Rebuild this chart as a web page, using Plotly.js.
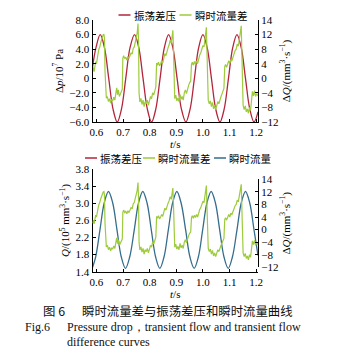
<!DOCTYPE html>
<html>
<head>
<meta charset="utf-8">
<script src="https://cdn.plot.ly/plotly-3.0.1.min.js"></script>
<style>html,body{margin:0;padding:0;background:#fff;}#chart{width:353px;height:354px;}</style>
</head>
<body>
<div id="chart"></div>
<script>
// ---- data ----
// oscillating pressure drop (top, left axis, 10^7 Pa)
const tRed = [0.585,0.598,0.614,0.630,0.646,0.662,0.678,0.694,0.710,0.726,0.743,0.759,0.775,0.791,0.807,0.823,0.839,0.855,0.871,0.887,0.903,0.919,0.936,0.952,0.968,0.984,1.000,1.016,1.032,1.048,1.064,1.080,1.096,1.112,1.128,1.144,1.160,1.176,1.192,1.207];
const dpRed = [1.5,4.2,6.0,4.2,0.0,-4.2,-6.0,-4.2,0.0,4.2,6.0,4.2,0.0,-4.2,-6.0,-4.2,0.0,4.2,6.0,4.2,0.0,-4.2,-6.0,-4.2,0.0,4.2,6.0,4.2,0.0,-4.2,-6.0,-4.2,0.0,4.2,6.0,4.2,0.0,-4.2,-6.0,-4.6];

// transient flow (bottom, left axis, 10^5 mm^3/s)
const tBlue = [0.585,0.597,0.613,0.629,0.645,0.661,0.677,0.693,0.709,0.725,0.742,0.758,0.774,0.790,0.806,0.822,0.838,0.854,0.870,0.886,0.902,0.918,0.935,0.951,0.967,0.983,0.999,1.015,1.031,1.047,1.063,1.079,1.095,1.111,1.128,1.144,1.160,1.176,1.192,1.207];
const qBlue = [1.50,1.75,2.38,3.01,3.28,3.01,2.38,1.75,1.48,1.75,2.38,3.01,3.28,3.01,2.38,1.75,1.48,1.75,2.38,3.01,3.28,3.01,2.38,1.75,1.48,1.75,2.38,3.01,3.28,3.01,2.38,1.75,1.48,1.75,2.38,3.01,3.28,3.01,2.38,1.78];

// transient flow difference (right axes, mm^3/s)
const tGreen = [
 0.585,0.588,0.591,0.594,0.597,0.600,0.603,0.606,0.609,0.612,0.616,0.619,0.622,0.625,0.628,0.630,0.632,0.634,0.637,
 0.641,0.645,0.649,0.653,0.657,0.661,0.665,0.669,0.673,0.676,0.679,0.682,0.686,0.690,0.694,0.697,
 0.699,0.702,0.706,0.710,0.714,0.718,0.722,0.726,0.730,0.734,0.738,0.742,0.746,0.750,0.753,0.756,0.758,
 0.760,0.763,0.767,0.771,0.775,0.779,0.783,0.787,0.791,0.795,0.799,0.803,0.807,0.811,0.815,0.819,0.823,
 0.826,0.829,0.833,0.837,0.841,0.845,0.849,0.853,0.857,0.861,0.865,0.869,0.873,0.877,0.881,0.884,0.887,0.889,
 0.891,0.894,0.898,0.902,0.906,0.910,0.914,0.918,0.922,0.926,0.930,0.934,0.938,0.942,0.946,0.950,0.954,
 0.957,0.960,0.964,0.968,0.972,0.976,0.980,0.984,0.988,0.992,0.996,1.000,1.004,1.008,1.011,1.013,1.015,
 1.017,1.020,1.024,1.028,1.032,1.036,1.040,1.044,1.048,1.052,1.056,1.060,1.064,1.068,1.072,1.076,1.079,
 1.082,1.085,1.089,1.093,1.097,1.101,1.105,1.109,1.113,1.117,1.121,1.125,1.129,1.133,1.137,1.141,1.144,1.146,
 1.148,1.151,1.155,1.159,1.163,1.167,1.171,1.175,1.179,1.183,1.186,1.190,1.194,1.198,1.202,1.207];
const dqGreen = [
 2.0,3.0,1.8,3.6,4.6,4.0,6.2,6.8,8.0,8.5,9.8,10.8,11.2,11.9,12.1,11.0,2.0,-3.2,-5.5,
 -5.0,-6.4,-5.6,-6.8,-5.8,-6.2,-5.2,-6.0,-4.0,-2.6,-4.5,-3.2,-5.0,-4.4,-3.8,-3.0,
 5.5,6.2,5.4,5.8,5.0,6.0,5.4,6.4,7.0,6.6,8.2,8.6,10.0,11.5,12.5,15.0,10.0,
 -4.0,-6.5,-5.5,-7.2,-6.0,-7.8,-6.4,-7.0,-6.0,-7.4,-6.2,-5.0,-5.6,-4.0,-4.6,-3.2,-2.4,
 4.2,3.6,4.4,3.4,4.0,4.8,4.2,5.6,6.8,6.2,7.8,8.4,9.2,10.5,9.6,11.5,13.2,9.0,
 -2.0,-5.6,-4.6,-6.2,-5.4,-6.4,-4.4,-5.8,-5.0,-6.0,-4.0,-3.2,-4.2,-2.6,-2.0,-1.2,-0.8,
 3.8,4.4,3.6,4.6,3.8,4.8,4.0,5.4,6.4,7.0,8.2,9.0,8.6,10.8,12.0,14.0,8.0,
 -3.0,-6.0,-7.0,-6.2,-7.8,-6.6,-8.4,-7.4,-8.6,-7.2,-6.4,-7.0,-5.6,-5.0,-4.2,-3.6,-2.8,
 3.2,3.8,3.0,4.2,4.8,4.0,5.2,4.8,6.0,6.8,7.6,8.0,9.4,8.8,10.6,12.0,14.4,8.0,
 -4.0,-7.4,-8.6,-7.6,-9.2,-8.4,-9.6,-8.0,-8.8,-6.0,-3.6,-4.8,-3.4,-5.0,-4.2,-4.8];

// tick labels
const xTickVals = [0.6,0.7,0.8,0.9,1.0,1.1,1.2];
const xTickText = ['0.6','0.7','0.8','0.9','1.0','1.1','1.2'];
const dpTickVals = [-6,-4,-2,0,2,4,6,8];
const dpTickText = ['\u22126.0','\u22124.0','\u22122.0','0','2.0','4.0','6.0','8.0'];
const qTickVals = [1.4,1.8,2.2,2.6,3.0,3.4,3.8];
const qTickText = ['1.4','1.8','2.2','2.6','3.0','3.4','3.8'];
const dqTickVals = [-12,-8,-4,0,4,8,12,16];
const dqTickText = ['\u221212','\u22128','\u22124','0','4','8','12','14'];

const seriesNames = ['振荡差压','瞬时流量差','瞬时流量'];
const captionCn = ['图 6','瞬时流量差与振荡差压和瞬时流量曲线'];
const captionEn = ['Fig.6','Pressure drop\uFF0Ctransient flow and transient flow','difference curves'];

// ---- styling ----
const RED = '#b3253a', GREEN = '#9dcb3c', BLUE = '#356d8c';
const W = 353, H = 354;
const px = x => x / W, py = y => 1 - y / H;
const SERIF = 'Liberation Serif, Times New Roman, serif';
const CJK = 'Noto Sans CJK SC, sans-serif';

const traces = [
  {x: tRed, y: dpRed, xaxis: 'x', yaxis: 'y', type: 'scatter', mode: 'lines', name: seriesNames[0],
   line: {color: RED, width: 1.3, shape: 'spline', smoothing: 1}, showlegend: false},
  {x: tGreen, y: dqGreen, xaxis: 'x', yaxis: 'y2', type: 'scatter', mode: 'lines', name: seriesNames[1],
   line: {color: GREEN, width: 1.2}, showlegend: false},
  {x: tGreen, y: dqGreen, xaxis: 'x2', yaxis: 'y4', type: 'scatter', mode: 'lines', name: seriesNames[1],
   line: {color: GREEN, width: 1.2}, showlegend: false},
  {x: tBlue, y: qBlue, xaxis: 'x2', yaxis: 'y3', type: 'scatter', mode: 'lines', name: seriesNames[2],
   line: {color: BLUE, width: 1.3, shape: 'spline', smoothing: 1}, showlegend: false}
];

const tickFont = {family: SERIF, size: 11, color: '#000'};
const axBase = {showline: true, linecolor: '#000', linewidth: 1, ticks: 'inside', ticklen: 3,
  tickcolor: '#000', tickwidth: 1, showgrid: false, zeroline: false, tickfont: tickFont, fixedrange: true};
const XD = [px(92.5), px(258)];

const layout = {
  width: W, height: H, margin: {l: 0, r: 0, t: 0, b: 0}, paper_bgcolor: '#fff', plot_bgcolor: 'rgba(0,0,0,0)',
  showlegend: false,
  xaxis: Object.assign({}, axBase, {domain: XD, anchor: 'y', range: [0.585, 1.207], tickmode: 'array',
    tickvals: xTickVals, ticktext: xTickText,
    title: {text: '<i>t</i>/s', font: {family: SERIF, size: 11, color: '#000'}, standoff: 1}}),
  yaxis: Object.assign({}, axBase, {domain: [py(122), py(20)], anchor: 'x', range: [-6, 8], tickmode: 'array',
    tickvals: dpTickVals, ticktext: dpTickText,
    title: {text: '\u0394<i>p</i>/10<sup>7</sup> Pa', font: {family: SERIF, size: 11, color: '#000'}, standoff: 3}}),
  yaxis2: Object.assign({}, axBase, {overlaying: 'y', side: 'right', anchor: 'x', range: [-12, 16], tickmode: 'array',
    tickvals: dqTickVals, ticktext: dqTickText,
    title: {text: '\u0394<i>Q</i>/(mm<sup>3</sup>\u00B7s<sup>\u22121</sup>)', font: {family: SERIF, size: 11, color: '#000'}, standoff: 4}}),
  xaxis2: Object.assign({}, axBase, {domain: XD, anchor: 'y3', range: [0.585, 1.207], tickmode: 'array',
    tickvals: xTickVals, ticktext: xTickText,
    title: {text: '<i>t</i>/s', font: {family: SERIF, size: 11, color: '#000'}, standoff: 1}}),
  yaxis3: Object.assign({}, axBase, {domain: [py(271.7), py(169.3)], anchor: 'x2', range: [1.4, 3.8], tickmode: 'array',
    tickvals: qTickVals, ticktext: qTickText,
    title: {text: '<i>Q</i>/(10<sup>5</sup> mm<sup>3</sup>\u00B7s<sup>\u22121</sup>)', font: {family: SERIF, size: 11, color: '#000'}, standoff: 3}}),
  yaxis4: Object.assign({}, axBase, {domain: [py(267.3), py(179.3)], anchor: 'x2', side: 'right', range: [-12, 16], tickmode: 'array',
    tickvals: dqTickVals, ticktext: dqTickText,
    title: {text: '\u0394<i>Q</i>/(mm<sup>3</sup>\u00B7s<sup>\u22121</sup>)', font: {family: SERIF, size: 11, color: '#000'}, standoff: 4}}),
  shapes: [],
  annotations: []
};

// hand-drawn legends (short line samples as in the reference)
function legendItem(x0, y, color, label) {
  layout.shapes.push({type: 'line', xref: 'paper', yref: 'paper', x0: px(x0), x1: px(x0 + 12), y0: py(y), y1: py(y),
    line: {color: color, width: 1.5}});
  layout.annotations.push({xref: 'paper', yref: 'paper', x: px(x0 + 13), y: py(y), xanchor: 'left', yanchor: 'middle',
    text: label, showarrow: false, font: {family: CJK, size: 10.5, color: '#000'}});
}
legendItem(118.5, 15, RED, seriesNames[0]);
legendItem(179.5, 15, GREEN, seriesNames[1]);
legendItem(85, 158, RED, seriesNames[0]);
legendItem(143, 158, GREEN, seriesNames[1]);
legendItem(214, 158, BLUE, seriesNames[2]);

// caption
function cap(x, y, text, font, size) {
  layout.annotations.push({xref: 'paper', yref: 'paper', x: px(x), y: py(y), xanchor: 'left', yanchor: 'middle',
    text: text, showarrow: false, font: {family: font, size: size, color: '#111'}});
}
cap(41, 311, captionCn[0], CJK, 12.4);
cap(80, 311, captionCn[1], CJK, 12.4);
cap(23, 326.5, captionEn[0], SERIF, 12);
cap(65, 326.5, captionEn[1], SERIF, 12);
cap(65, 341.5, captionEn[2], SERIF, 12);

Plotly.newPlot('chart', traces, layout, {staticPlot: true, displayModeBar: false});
</script>
</body>
</html>
